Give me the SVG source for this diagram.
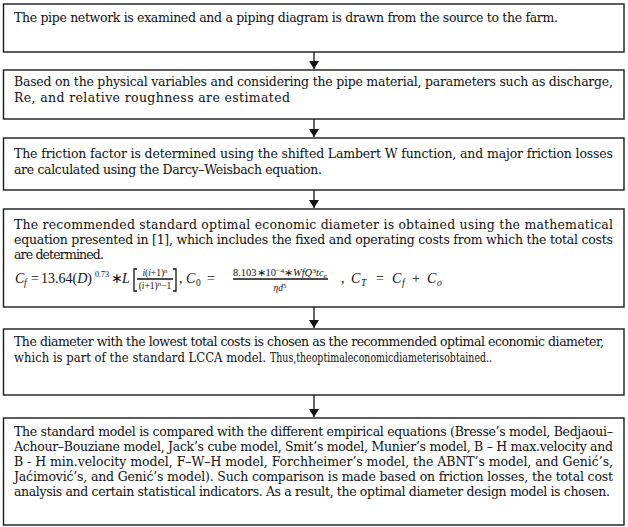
<svg xmlns="http://www.w3.org/2000/svg" width="628" height="527" viewBox="0 0 628 527">
<style>
.box{fill:#fff;stroke:#1a1a1a;stroke-width:1.4}
.t{font-family:"DejaVu Serif",serif;font-size:12.5px;fill:#111}
.m{font-family:"Liberation Serif",serif;font-size:14px;fill:#111;font-style:italic}
.u{font-style:normal}
.s{font-size:9.5px}
.f{font-family:"Liberation Serif",serif;font-size:9.5px;fill:#111;font-style:italic}
.c{stroke:#111;stroke-width:1.3;fill:none}
</style>
<defs>
<marker id="ah" markerWidth="8" markerHeight="10" refX="8" refY="5" orient="auto" markerUnits="userSpaceOnUse">
<path d="M0,0 L8,5 L0,10 Z" fill="#111"/>
</marker>
</defs>
<rect width="628" height="527" fill="#fff"/>
<g id="connectors">
<line class="c" x1="314" y1="52" x2="314" y2="69" marker-end="url(#ah)"/>
<line class="c" x1="314" y1="119" x2="314" y2="137" marker-end="url(#ah)"/>
<line class="c" x1="314" y1="190" x2="314" y2="208" marker-end="url(#ah)"/>
<line class="c" x1="314" y1="307" x2="314" y2="328" marker-end="url(#ah)"/>
<line class="c" x1="314" y1="395" x2="314" y2="417" marker-end="url(#ah)"/>
</g>
<g id="node1">
<rect class="box" x="3.5" y="4" width="620.5" height="48"/>
<text class="t" x="14" y="22" textLength="544" lengthAdjust="spacing">The pipe network is examined and a piping diagram is drawn from the source to the farm.</text>
</g>
<g id="node2">
<rect class="box" x="3.5" y="70" width="620.5" height="49"/>
<text class="t" x="14" y="86" textLength="599" lengthAdjust="spacing">Based on the physical variables and considering the pipe material, parameters such as discharge,</text>
<text class="t" x="14" y="102" textLength="276" lengthAdjust="spacing">Re, and relative roughness are estimated</text>
</g>
<g id="node3">
<rect class="box" x="3.5" y="138" width="620.5" height="52"/>
<text class="t" x="14" y="158" textLength="599" lengthAdjust="spacing">The friction factor is determined using the shifted Lambert W function, and major friction losses</text>
<text class="t" x="14" y="174" textLength="308" lengthAdjust="spacing">are calculated using the Darcy–Weisbach equation.</text>
</g>
<g id="node4">
<rect class="box" x="3.5" y="209" width="620.5" height="98"/>
<text class="t" x="14" y="229" textLength="599" lengthAdjust="spacing">The recommended standard optimal economic diameter is obtained using the mathematical</text>
<text class="t" x="14" y="244" textLength="599" lengthAdjust="spacing">equation presented in [1], which includes the fixed and operating costs from which the total costs</text>
<text class="t" x="14" y="259" textLength="90" lengthAdjust="spacing">are determined.</text>
<text class="m" x="15" y="283">C<tspan class="s" x="24" dy="3">f</tspan><tspan class="u" x="31" dy="-3">=</tspan><tspan class="u" x="41">13.64(</tspan>D<tspan class="u">)</tspan><tspan class="u" x="95" dy="-6" font-size="8">0.73</tspan><tspan class="u" x="111" dy="6">∗</tspan><tspan x="122">L</tspan></text>
<path class="c" d="M137,269 h-3 v22 h3 M173,269 h3 v22 h-3" stroke-width="1"/>
<text class="f" x="155" y="276" text-anchor="middle">i<tspan class="u">(</tspan>i<tspan class="u">+1)</tspan><tspan dy="-3" font-size="7">n</tspan></text>
<line class="c" x1="137" y1="279" x2="173" y2="279" stroke-width="0.8"/>
<text class="f" x="155" y="289" text-anchor="middle"><tspan class="u">(</tspan>i<tspan class="u">+1)</tspan><tspan dy="-3" font-size="7">n</tspan><tspan class="u" dy="3">−1</tspan></text>
<text class="m" x="179" y="283"><tspan class="u">,</tspan><tspan x="186">C</tspan><tspan class="s u" x="196" dy="3">0</tspan><tspan class="u" x="207" dy="-3">=</tspan></text>
<text class="f" x="233" y="276" textLength="94" lengthAdjust="spacingAndGlyphs"><tspan class="u">8.103∗10</tspan><tspan class="u" dy="-3" font-size="7">−4</tspan><tspan class="u" dy="3">∗</tspan>WfQ<tspan dy="-3" font-size="7" class="u">3</tspan><tspan dy="3">tc</tspan><tspan dy="2" font-size="7">e</tspan></text>
<line class="c" x1="233" y1="279" x2="328" y2="279" stroke-width="0.8"/>
<text class="f" x="280" y="291" text-anchor="middle">ηd<tspan class="u" dy="-3" font-size="7">5</tspan></text>
<text class="m" x="341" y="283"><tspan class="u">,</tspan><tspan x="351">C</tspan><tspan class="s" x="361" dy="3">T</tspan><tspan class="u" x="376" dy="-3">=</tspan><tspan x="392">C</tspan><tspan class="s" x="402" dy="3">f</tspan><tspan class="u" x="412" dy="-3">+</tspan><tspan x="427">C</tspan><tspan class="s" x="437" dy="3">o</tspan></text>
</g>
<g id="node5">
<rect class="box" x="3.5" y="329" width="620.5" height="66"/>
<text class="t" x="14" y="346" textLength="590" lengthAdjust="spacing">The diameter with the lowest total costs is chosen as the recommended optimal economic diameter,</text>
<text class="t" x="14" y="362" textLength="252" lengthAdjust="spacingAndGlyphs">which is part of the standard LCCA model.</text>
<text class="t" x="270" y="362" textLength="222" lengthAdjust="spacingAndGlyphs">Thus,theoptimaleconomicdiameterisobtained..</text>
</g>
<g id="node6">
<rect class="box" x="3.5" y="418" width="620.5" height="107"/>
<text class="t" x="14" y="436" textLength="599" lengthAdjust="spacing">The standard model is compared with the different empirical equations (Bresse’s model, Bedjaoui–</text>
<text class="t" x="14" y="451" textLength="599" lengthAdjust="spacing">Achour–Bouziane model, Jack’s cube model, Smit’s model, Munier’s model, B – H max.velocity and</text>
<text class="t" x="14" y="466" textLength="599" lengthAdjust="spacing">B - H min.velocity model, F–W–H model, Forchheimer’s model, the ABNT’s model, and Genić’s,</text>
<text class="t" x="14" y="481" textLength="599" lengthAdjust="spacing">Jaćimović’s, and Genić’s model). Such comparison is made based on friction losses, the total cost</text>
<text class="t" x="14" y="496" textLength="596" lengthAdjust="spacing">analysis and certain statistical indicators. As a result, the optimal diameter design model is chosen.</text>
</g>
</svg>
